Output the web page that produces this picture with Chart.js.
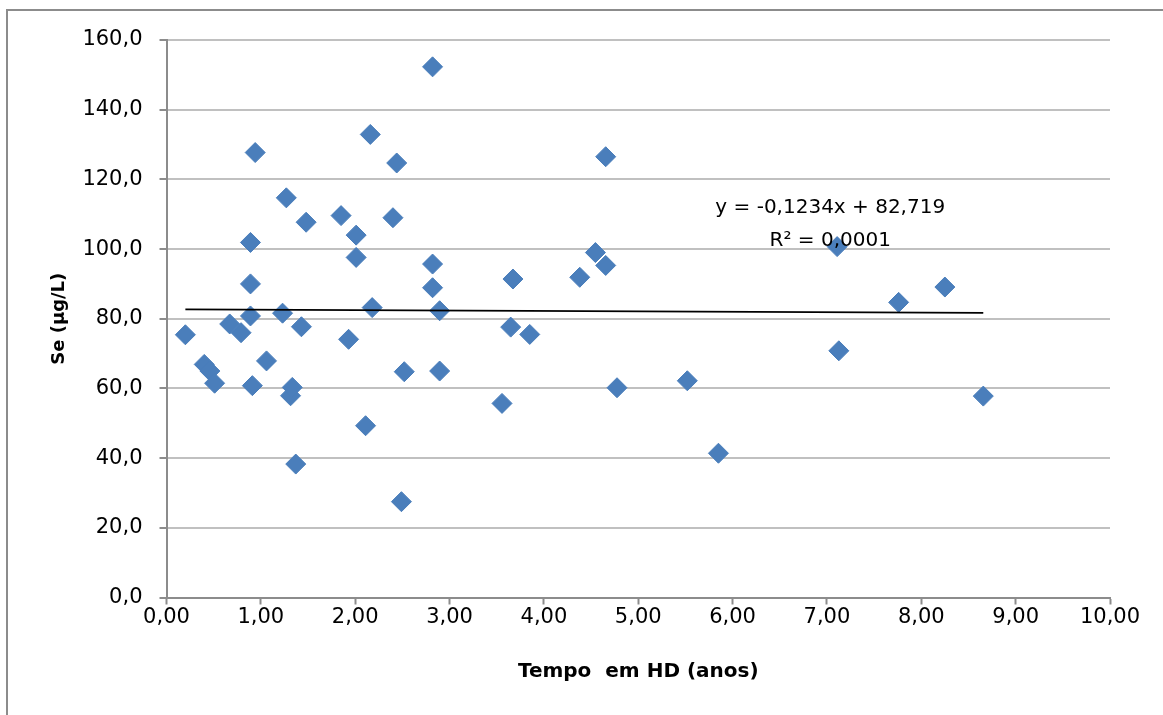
<!DOCTYPE html>
<html>
<head>
<meta charset="utf-8">
<script src="https://cdn.jsdelivr.net/npm/chart.js@4.4.1/dist/chart.umd.min.js"></script>
<style>
  html, body { margin: 0; padding: 0; background: #ffffff; overflow: hidden; }
  canvas { display: block; }
</style>
</head>
<body>
<canvas id="c" width="1163" height="715"></canvas>
<script>
// Tempo em HD (anos)
const tempoHD = [
  0.20, 0.40, 0.46, 0.51, 0.67, 0.79, 0.89, 0.89, 0.89, 0.91,
  0.94, 1.06, 1.23, 1.27, 1.315, 1.333, 1.37, 1.43, 1.48, 1.85,
  1.93, 2.01, 2.01, 2.11, 2.16, 2.18, 2.40, 2.44, 2.49, 2.52,
  2.82, 2.82, 2.82, 2.895, 2.895, 3.556, 3.648, 3.672, 3.85, 4.38,
  4.546, 4.655, 4.655, 4.775, 5.52, 5.85, 7.108, 7.126, 7.76, 8.25,
  8.657
];
// Se (µg/L)
const seValues = [
  75.4, 66.9, 65.0, 61.5, 78.5, 76.0, 101.9, 90.0, 80.8, 60.8,
  127.7, 67.9, 81.6, 114.7, 57.9, 60.3, 38.3, 77.7, 107.7, 109.6,
  74.1, 104.0, 97.6, 49.3, 132.9, 83.2, 109.0, 124.7, 27.5, 64.8,
  152.3, 95.7, 88.9, 82.3, 65.0, 55.7, 77.6, 91.4, 75.5, 91.9,
  99.0, 126.5, 95.3, 60.2, 62.2, 41.4, 100.7, 70.8, 84.7, 89.1,
  57.8
];
// Linear trendline (as printed on the chart)
const trendSlope = -0.1234;
const trendIntercept = 82.719;
const equationLabels = ["y = -0,1234x + 82,719", "R² = 0,0001"];
const xAxisTitle = "Tempo  em HD (anos)";
const yAxisTitle = "Se (µg/L)";

const xMin = Math.min(...tempoHD), xMax = Math.max(...tempoHD);
const trendPoints = [xMin, xMax].map(x => ({ x: x, y: trendIntercept + trendSlope * x }));
const scatterPoints = tempoHD.map((x, i) => ({ x: x, y: seValues[i] }));

const FONT = "'DejaVu Sans', sans-serif";
const fmt = (v, d) => v.toFixed(d).replace('.', ',');

const framePlugin = {
  id: 'frame',
  beforeDraw(chart) {
    const ctx = chart.ctx;
    ctx.save();
    ctx.fillStyle = '#ffffff';
    ctx.fillRect(0, 0, chart.width, chart.height);
    ctx.strokeStyle = '#8c8c8c';
    ctx.lineWidth = 2;
    ctx.beginPath();
    ctx.moveTo(7, chart.height + 2);
    ctx.lineTo(7, 10);
    ctx.lineTo(chart.width + 2, 10);
    ctx.stroke();
    ctx.restore();
  }
};

const equationPlugin = {
  id: 'equation',
  afterDatasetsDraw(chart) {
    const ctx = chart.ctx;
    const xs = chart.scales.x, ys = chart.scales.y;
    ctx.save();
    ctx.font = "20px " + FONT;
    ctx.fillStyle = '#000';
    ctx.textAlign = 'center';
    ctx.textBaseline = 'middle';
    const cx = xs.getPixelForValue(7.035);
    ctx.fillText(equationLabels[0], cx, ys.getPixelForValue(111.8));
    ctx.fillText(equationLabels[1], cx, ys.getPixelForValue(102.3));
    ctx.restore();
  }
};

new Chart(document.getElementById('c'), {
  type: 'scatter',
  data: {
    datasets: [
      {
        label: 'Se',
        data: scatterPoints,
        pointStyle: 'rectRot',
        pointRadius: 10,
        pointHoverRadius: 10,
        backgroundColor: '#4a7ebb',
        borderColor: '#4a7ebb',
        borderWidth: 1,
        order: 2
      },
      {
        label: 'Linear',
        type: 'line',
        data: trendPoints,
        borderColor: '#000000',
        borderWidth: 1.75,
        pointRadius: 0,
        fill: false,
        order: 1
      }
    ]
  },
  options: {
    responsive: false,
    animation: false,
    events: [],
    layout: { padding: { top: 40, right: 53, left: 0, bottom: 0 } },
    plugins: { legend: { display: false }, tooltip: { enabled: false } },
    scales: {
      x: {
        type: 'linear',
        min: 0, max: 10,
        afterFit(s) { s.height = 715 - 597.5; },
        ticks: {
          stepSize: 1,
          callback: v => fmt(v, 2),
          color: '#000',
          font: { family: FONT, size: 21 },
          padding: 0,
          maxRotation: 0
        },
        grid: {
          drawOnChartArea: false,
          drawTicks: true,
          tickLength: 7,
          tickColor: '#8c8c8c',
          tickWidth: 2
        },
        border: { color: '#8c8c8c', width: 2 },
        title: {
          display: true,
          text: xAxisTitle,
          color: '#000',
          font: { family: FONT, size: 20, weight: 'bold' },
          padding: { top: 0, bottom: 31 }
        }
      },
      y: {
        type: 'linear',
        min: 0, max: 160,
        afterFit(s) { s.width = 166.5; },
        ticks: {
          stepSize: 20,
          callback: v => fmt(v, 1),
          color: '#000',
          font: { family: FONT, size: 21 },
          padding: 17
        },
        grid: {
          color: '#c0c0c0',
          lineWidth: 2,
          drawTicks: true,
          tickLength: 7,
          tickColor: '#8c8c8c',
          tickWidth: 2
        },
        border: { color: '#8c8c8c', width: 2 },
        title: {
          display: true,
          text: yAxisTitle,
          color: '#000',
          font: { family: FONT, size: 18, weight: 'bold' },
          padding: { top: 49, bottom: 0 }
        }
      }
    }
  },
  plugins: [framePlugin, equationPlugin]
});
</script>
</body>
</html>
